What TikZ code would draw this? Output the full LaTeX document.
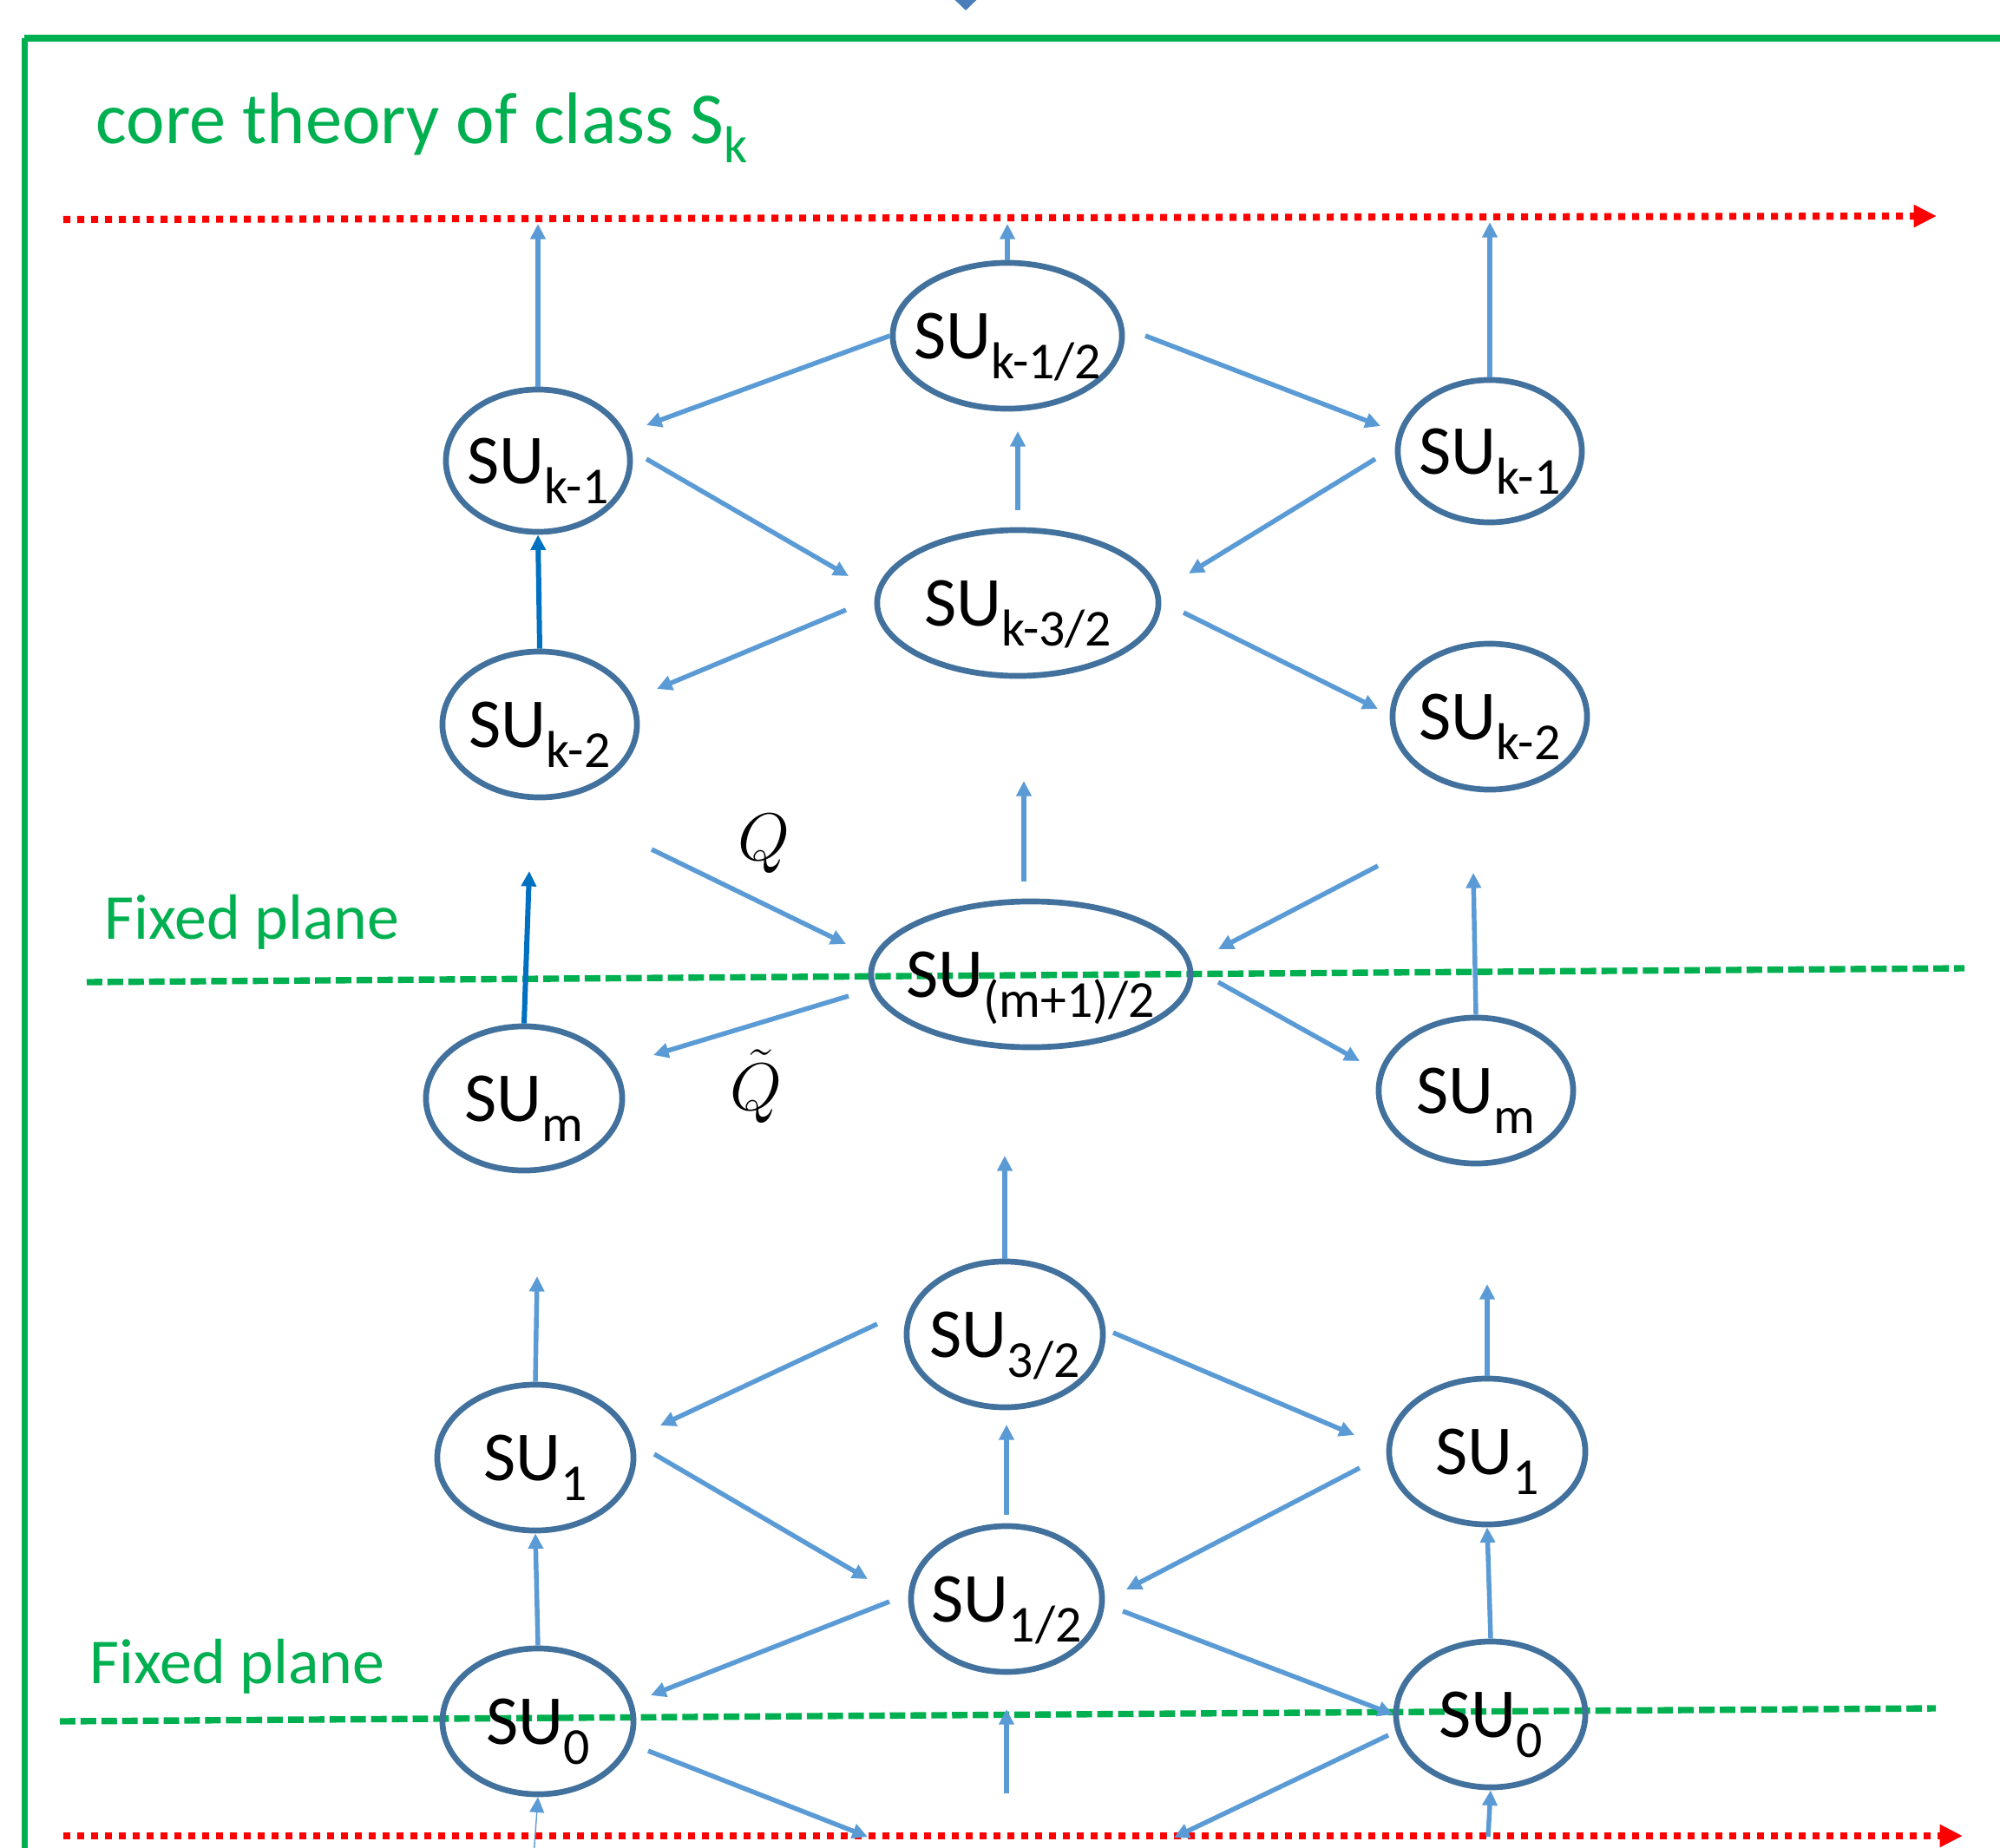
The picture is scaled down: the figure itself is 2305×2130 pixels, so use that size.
\documentclass[tikz,border=0pt]{standalone}
\usepackage{fix-cm}
\usepackage[no-math]{fontspec}
\setmainfont{Carlito}
\usepackage{amsmath}
\usetikzlibrary{arrows.meta,shapes.geometric}
\definecolor{planegreen}{HTML}{00B050}
\definecolor{flowred}{HTML}{FF0000}
\definecolor{linkblue}{HTML}{5B9BD5}
\definecolor{darkblue}{HTML}{0070C0}
\definecolor{rimblue}{HTML}{41719C}
\definecolor{topblue}{HTML}{4A7EBB}
\newcommand{\lowidx}[1]{\raisebox{-6.5pt}{\fontsize{17}{17}\selectfont #1}}

\tikzset{
  sutag/.style={font=\fontsize{23}{27}\selectfont, inner sep=0pt, text depth=0pt},
  su/.style={ellipse, draw=rimblue, line width=1.9pt, inner sep=0pt,
    minimum width=2.2cm, minimum height=1.68cm, label={[sutag]center:#1}},
  link/.style={linkblue, line width=1.55pt, -{Triangle[length=5pt,width=4.8pt]}},
  strong/.style={darkblue, line width=1.7pt, -{Triangle[length=5pt,width=4.8pt]}},
  flow/.style={flowred, line width=2.3pt, dash pattern=on 2.3pt off 2.25pt,
    -{Triangle[length=7.5pt,width=7pt]}},
  plane/.style={planegreen, line width=2.1pt, dash pattern=on 5.1pt off 1.7pt},
  greentext/.style={planegreen, anchor=base west, inner sep=0pt},
  qtag/.style={font=\fontsize{22}{26}\selectfont, inner sep=0pt},
}

\begin{document}
\begin{tikzpicture}[x=0.01cm, y=-0.01cm]
  \useasboundingbox (0,0) rectangle (2305,2130);
  \clip (0,0) rectangle (2305,2130);

  % frame of the core theory
  \draw[planegreen, line width=1.9pt] (28.6,2200) -- (28.6,44);
  \draw[planegreen, line width=2.3pt] (27.6,44) -- (2400,44);
  \coordinate (topin) at (1113,-40);
  \coordinate (topout) at (1113,12);
  \draw[topblue, line width=1.5pt, -{Triangle[length=4pt,width=8pt]}] (topin) -- (topout);
  \node[greentext, font=\fontsize{24}{29}\selectfont] (title) at (110,165)
       {core theory of class S\lowidx{k}};

  % flow lines and fixed planes
  \draw[flow] (73,253) -- (2232,249);
  \draw[flow] (73,2116) -- (2262,2116);
  \draw[plane] (100,1132) -- (2264,1116);
  \draw[plane] (69,1984) -- (2231,1969);
  \node[greentext, font=\fontsize{21}{25}\selectfont] (planeA) at (120,1082) {Fixed plane};
  \node[greentext, font=\fontsize{21}{25}\selectfont] (planeB) at (103,1940) {Fixed plane};

  % gauge nodes
  \node[su={SU\lowidx{k-1/2}}, minimum width=2.64cm] (nk12) at (1161,387) {};
  \node[su={SU\lowidx{k-1}}, minimum width=2.12cm, minimum height=1.64cm] (nk1L) at (620,531) {};
  \node[su={SU\lowidx{k-1}}, minimum width=2.12cm, minimum height=1.64cm] (nk1R) at (1717,520) {};
  \node[su={SU\lowidx{k-3/2}}, minimum width=3.24cm] (nk32) at (1173,695) {};
  \node[su={SU\lowidx{k-2}}, minimum width=2.24cm] (nk2L) at (622,835) {};
  \node[su={SU\lowidx{k-2}}, minimum width=2.24cm] (nk2R) at (1717,826) {};
  \node[su={SU\lowidx{(m+1)/2}}, minimum width=3.68cm] (nm12) at (1188,1123) {};
  \node[su={SU\lowidx{m}}, minimum width=2.26cm, minimum height=1.66cm] (nmL) at (604,1266) {};
  \node[su={SU\lowidx{m}}, minimum width=2.24cm] (nmR) at (1701,1257) {};
  \node[su={SU\lowidx{3/2}}, minimum width=2.26cm] (n32) at (1158,1538) {};
  \node[su={SU\lowidx{1}}, minimum width=2.26cm] (n1L) at (617,1680) {};
  \node[su={SU\lowidx{1}}, minimum width=2.26cm] (n1R) at (1714,1673) {};
  \node[su={SU\lowidx{1/2}}] (n12) at (1160,1843) {};
  \node[su={SU\lowidx{0}}] (n0L) at (620,1984) {};
  \node[su={SU\lowidx{0}}, minimum width=2.18cm] (n0R) at (1718,1976) {};

  \node[qtag] (qup) at (880,973) {$Q$};
  \node[qtag] (qdown) at (871,1252) {$\tilde{Q}$};

  % free ends of the links
  \foreach \n/\x/\y in {h1/620/258, h2/1161/258, h3/1717/256, h4/745/490,
      t5/1320/387, h5/1591/491, t6/1173/588, h6/1173/497,
      t7/745/529, h7/978/664, t8/1585/529, h8/1370/661,
      t9/975/703, h9/757/794, t10/1364/706, h10/1588/817,
      t12/1180/1016, h12/1180/900, t13/751/979, h13/975/1088,
      t14/1588/998, h14/1404/1094, h15/610/1004, h16/1698/1006,
      t17/978/1148, h17/753/1216, t18/1404/1132, h18/1567/1223,
      h19/1158/1332, h20/619/1471, h21/1714/1480,
      t22/1011/1526, h22/761/1643, t23/1283/1536, h23/1561/1654,
      t24/1160/1746, h24/1160/1642, t25/754/1676, h25/1000/1820,
      t26/1567/1692, h26/1298/1832, t29/1025/1846, h29/750/1954,
      t30/1294/1857, t31/1160/2067, h31/1160/1970,
      t32/747/2018, h32/1000/2117, t33/1600/2000, h33/1353/2118,
      t34/615/2140, t35/1715/2117}
    \coordinate (\n) at (\x,\y);

  % links between the nodes
  \draw[link] (nk1L.north) -- (h1);
  \draw[link] (nk12.north) -- (h2);
  \draw[link] (nk1R.north) -- (h3);
  \draw[link] (nk12.west) -- (h4);
  \draw[link] (t5) -- (h5);
  \draw[link] (t6) -- (h6);
  \draw[link] (t7) -- (h7);
  \draw[link] (t8) -- (h8);
  \draw[link] (t9) -- (h9);
  \draw[link] (t10) -- (h10);
  \draw[strong] (nk2L.north) -- (nk1L.south);
  \draw[link] (t12) -- (h12);
  \draw[link] (t13) -- (h13);
  \draw[link] (t14) -- (h14);
  \draw[strong] (nmL.north) -- (h15);
  \draw[link] (nmR.north) -- (h16);
  \draw[link] (t17) -- (h17);
  \draw[link] (t18) -- (h18);
  \draw[link] (n32.north) -- (h19);
  \draw[link] (n1L.north) -- (h20);
  \draw[link] (n1R.north) -- (h21);
  \draw[link] (t22) -- (h22);
  \draw[link] (t23) -- (h23);
  \draw[link] (t24) -- (h24);
  \draw[link] (t25) -- (h25);
  \draw[link] (t26) -- (h26);
  \draw[link] (n0L.north) -- (n1L.south);
  \draw[link] (n0R.north) -- (n1R.south);
  \draw[link] (t29) -- (h29);
  \draw[link] (t30) -- (n0R.west);
  \draw[link] (t31) -- (h31);
  \draw[link] (t32) -- (h32);
  \draw[link] (t33) -- (h33);
  \draw[link, line width=0.4pt] (t34) -- (n0L.south);
  \draw[link] (t35) -- (n0R.south);
\end{tikzpicture}
\end{document}
